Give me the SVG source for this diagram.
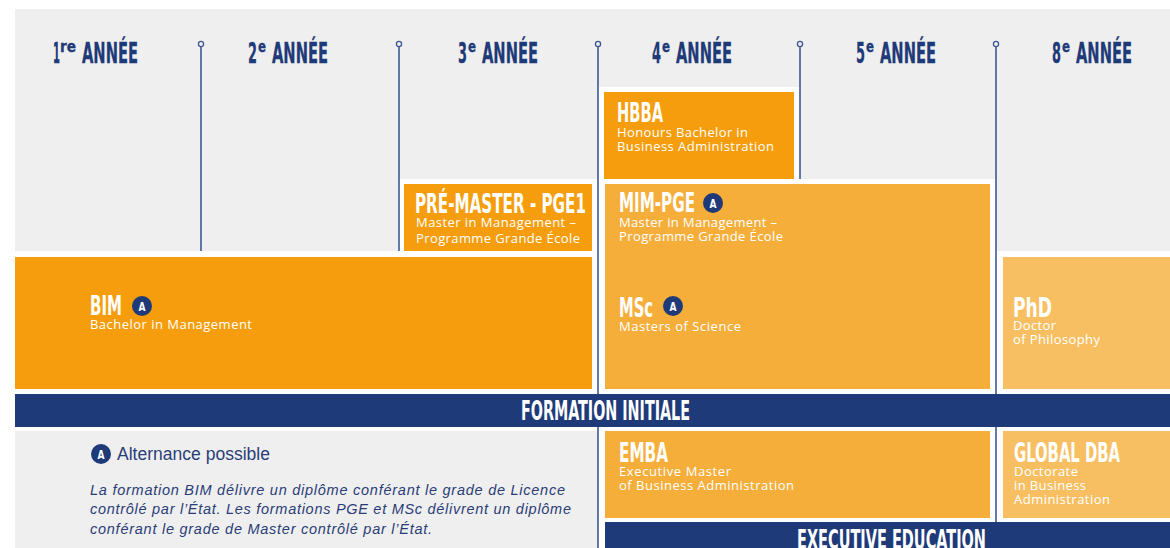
<svg xmlns="http://www.w3.org/2000/svg" width="1170" height="548" viewBox="0 0 1170 548">
<style>
.gray{fill:#efefef}
.o1{fill:#f59d0c}
.o2{fill:#f6ae3b}
.o3{fill:#f8bf62}
.navy{fill:#1f3a78}
.hd{font-family:"Liberation Sans Narrow","DejaVu Sans Condensed","Roboto",sans-serif;font-weight:700;fill:#1f3a78;stroke:#1f3a78;stroke-width:0.3}
.tt{font-family:"Liberation Sans Narrow","DejaVu Sans Condensed","Roboto",sans-serif;font-weight:700;fill:#ffffff;font-size:26px}
.sub{font-family:"Open Sans","Noto Sans",sans-serif;fill:#ffffff;font-size:13px}
.ln{stroke:#3f5894;stroke-width:1.6;fill:none}
.dot{fill:#efefef;stroke:#3f5894;stroke-width:1.3}
.bd{fill:#1f3a78}
.bdt{font-family:"Liberation Sans Narrow","DejaVu Sans Condensed","Roboto",sans-serif;font-weight:700;fill:#ffffff;font-size:13px;text-anchor:middle}
.note{font-family:"Liberation Sans",sans-serif;fill:#2a3d78}
</style>
<rect x="0" y="0" width="1170" height="548" fill="#ffffff"/>
<g id="background">
<rect class="gray" x="15" y="9" width="1155" height="242"/>
<rect fill="#ffffff" x="399" y="179" width="199" height="72"/>
<rect fill="#ffffff" x="598" y="87" width="202" height="164"/>
<rect fill="#ffffff" x="598" y="179" width="398" height="72"/>
<rect class="gray" x="15" y="431" width="583" height="117"/>
</g>
<g id="timeline">
<line class="ln" x1="201" y1="47" x2="201" y2="251"/>
<line class="ln" x1="399" y1="47" x2="399" y2="251"/>
<line class="ln" x1="598" y1="47" x2="598" y2="548"/>
<line class="ln" x1="800" y1="47" x2="800" y2="179"/>
<line class="ln" x1="996" y1="47" x2="996" y2="548"/>
<circle class="dot" cx="201" cy="44" r="2.6"/>
<circle class="dot" cx="399" cy="44" r="2.6"/>
<circle class="dot" cx="598" cy="44" r="2.6"/>
<circle class="dot" cx="800" cy="44" r="2.6"/>
<circle class="dot" cx="996" cy="44" r="2.6"/>
</g>
<g id="headers">
<text class="hd" x="53" y="63" font-size="27.5" textLength="7" lengthAdjust="spacingAndGlyphs">1</text>
<text class="hd" x="60" y="52" font-size="16" textLength="16" lengthAdjust="spacingAndGlyphs">re</text>
<text class="hd" x="82" y="63" font-size="27.5" textLength="56" lengthAdjust="spacingAndGlyphs">ANNÉE</text>
<text class="hd" x="248" y="63" font-size="27.5" textLength="9" lengthAdjust="spacingAndGlyphs">2</text>
<text class="hd" x="258" y="52" font-size="16" textLength="8" lengthAdjust="spacingAndGlyphs">e</text>
<text class="hd" x="272" y="63" font-size="27.5" textLength="56" lengthAdjust="spacingAndGlyphs">ANNÉE</text>
<text class="hd" x="458" y="63" font-size="27.5" textLength="9" lengthAdjust="spacingAndGlyphs">3</text>
<text class="hd" x="468" y="52" font-size="16" textLength="8" lengthAdjust="spacingAndGlyphs">e</text>
<text class="hd" x="482" y="63" font-size="27.5" textLength="56" lengthAdjust="spacingAndGlyphs">ANNÉE</text>
<text class="hd" x="652" y="63" font-size="27.5" textLength="9" lengthAdjust="spacingAndGlyphs">4</text>
<text class="hd" x="662" y="52" font-size="16" textLength="8" lengthAdjust="spacingAndGlyphs">e</text>
<text class="hd" x="676" y="63" font-size="27.5" textLength="56" lengthAdjust="spacingAndGlyphs">ANNÉE</text>
<text class="hd" x="856" y="63" font-size="27.5" textLength="9" lengthAdjust="spacingAndGlyphs">5</text>
<text class="hd" x="866" y="52" font-size="16" textLength="8" lengthAdjust="spacingAndGlyphs">e</text>
<text class="hd" x="880" y="63" font-size="27.5" textLength="56" lengthAdjust="spacingAndGlyphs">ANNÉE</text>
<text class="hd" x="1052" y="63" font-size="27.5" textLength="9" lengthAdjust="spacingAndGlyphs">8</text>
<text class="hd" x="1062" y="52" font-size="16" textLength="8" lengthAdjust="spacingAndGlyphs">e</text>
<text class="hd" x="1076" y="63" font-size="27.5" textLength="56" lengthAdjust="spacingAndGlyphs">ANNÉE</text>
</g>
<g id="hbba">
<rect class="o1" x="604" y="92" width="190" height="87"/>
<text class="tt" x="617" y="122" textLength="46" lengthAdjust="spacingAndGlyphs">HBBA</text>
<text class="sub" x="617" y="137" textLength="131">Honours Bachelor in</text>
<text class="sub" x="617" y="151" textLength="157">Business Administration</text>
</g>
<g id="pre-master">
<rect class="o1" x="404" y="184" width="188" height="67"/>
<text class="tt" x="415" y="213" textLength="171" lengthAdjust="spacingAndGlyphs">PRÉ-MASTER - PGE1</text>
<text class="sub" x="416" y="227" textLength="160">Master in Management –</text>
<text class="sub" x="416" y="243" textLength="164">Programme Grande École</text>
</g>
<g id="mim-msc">
<rect class="o2" x="605" y="184" width="385" height="205"/>
<text class="tt" x="619" y="212" textLength="76" lengthAdjust="spacingAndGlyphs">MIM-PGE</text>
<circle class="bd" cx="713" cy="203" r="10"/>
<text class="bdt" x="713" y="207.5" textLength="7" lengthAdjust="spacingAndGlyphs">A</text>
<text class="sub" x="619" y="227" textLength="158">Master in Management –</text>
<text class="sub" x="619" y="241" textLength="164">Programme Grande École</text>
<text class="tt" x="619" y="317" textLength="34" lengthAdjust="spacingAndGlyphs">MSc</text>
<circle class="bd" cx="673" cy="306" r="10"/>
<text class="bdt" x="673" y="310.5" textLength="7" lengthAdjust="spacingAndGlyphs">A</text>
<text class="sub" x="619" y="331" textLength="122">Masters of Science</text>
</g>
<g id="bim">
<rect class="o1" x="15" y="257" width="577" height="132"/>
<text class="tt" x="90" y="315" textLength="32" lengthAdjust="spacingAndGlyphs">BIM</text>
<circle class="bd" cx="142" cy="306" r="10"/>
<text class="bdt" x="142" y="310.5" textLength="7" lengthAdjust="spacingAndGlyphs">A</text>
<text class="sub" x="90" y="329" textLength="162">Bachelor in Management</text>
</g>
<g id="phd">
<rect class="o3" x="1003" y="257" width="167" height="132"/>
<text class="tt" x="1013" y="317" textLength="39" lengthAdjust="spacingAndGlyphs">PhD</text>
<text class="sub" x="1013" y="330" textLength="43">Doctor</text>
<text class="sub" x="1013" y="344" textLength="87">of Philosophy</text>
</g>
<g id="formation-initiale">
<rect class="navy" x="15" y="394" width="1155" height="33"/>
<text class="tt" x="521" y="420" style="font-size:27px" textLength="169" lengthAdjust="spacingAndGlyphs">FORMATION INITIALE</text>
</g>
<g id="emba">
<rect class="o2" x="605" y="431" width="385" height="87"/>
<text class="tt" x="619" y="462" textLength="49" lengthAdjust="spacingAndGlyphs">EMBA</text>
<text class="sub" x="619" y="476" textLength="112">Executive Master</text>
<text class="sub" x="619" y="490" textLength="175">of Business Administration</text>
</g>
<g id="global-dba">
<rect class="o3" x="1003" y="431" width="167" height="87"/>
<text class="tt" x="1014" y="462" textLength="106" lengthAdjust="spacingAndGlyphs">GLOBAL DBA</text>
<text class="sub" x="1014" y="476" textLength="64">Doctorate</text>
<text class="sub" x="1014" y="490" textLength="72">in Business</text>
<text class="sub" x="1014" y="504" textLength="96">Administration</text>
</g>
<g id="executive-education">
<rect class="navy" x="605" y="522" width="565" height="26"/>
<text class="tt" x="797" y="549" style="font-size:27px" textLength="189" lengthAdjust="spacingAndGlyphs">EXECUTIVE EDUCATION</text>
</g>
<g id="legend">
<circle class="bd" cx="101" cy="454" r="10"/>
<text class="bdt" x="101" y="458.5" textLength="7" lengthAdjust="spacingAndGlyphs">A</text>
<text class="note" x="117" y="460" font-size="17.5" textLength="153">Alternance possible</text>
<text class="note" x="90" y="495" font-size="14.5" font-style="italic" textLength="475">La formation BIM délivre un diplôme conférant le grade de Licence</text>
<text class="note" x="90" y="514" font-size="14.5" font-style="italic" textLength="481">contrôlé par l’État. Les formations PGE et MSc délivrent un diplôme</text>
<text class="note" x="90" y="534" font-size="14.5" font-style="italic" textLength="342">conférant le grade de Master contrôlé par l’État.</text>
</g>
</svg>
